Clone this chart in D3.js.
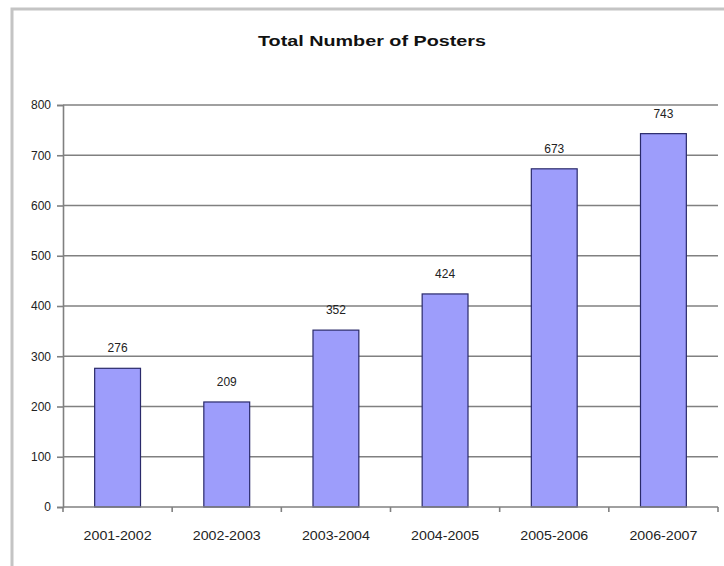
<!DOCTYPE html>
<html>
<head>
<meta charset="utf-8">
<script src="https://cdn.jsdelivr.net/npm/d3@7"></script>
<style>
  html, body { margin: 0; padding: 0; background: #fff; }
  svg { display: block; font-family: "Liberation Sans", Arial, sans-serif; }
</style>
</head>
<body>
<svg id="chart" width="724" height="566"></svg>
<script>
const title = "Total Number of Posters";
const categories = ["2001-2002", "2002-2003", "2003-2004", "2004-2005", "2005-2006", "2006-2007"];
const values = [276, 209, 352, 424, 673, 743];
const yTicks = [0, 100, 200, 300, 400, 500, 600, 700, 800];

const svg = d3.select("#chart");
const W = 724, H = 566;
const plot = { left: 63, right: 718, top: 105, bottom: 507 };

// outer chart frame (partially visible)
svg.append("rect")
  .attr("x", 12).attr("y", 9)
  .attr("width", W + 20).attr("height", H + 20)
  .attr("fill", "#fff")
  .attr("stroke", "#c4c4c4")
  .attr("stroke-width", 3);

// title
svg.append("text")
  .attr("x", 372).attr("y", 46)
  .attr("text-anchor", "middle")
  .attr("font-size", 15)
  .attr("font-weight", "bold")
  .attr("fill", "#111")
  .attr("textLength", 228)
  .attr("lengthAdjust", "spacingAndGlyphs")
  .text(title);

const x = d3.scaleBand()
  .domain(categories)
  .range([plot.left, plot.right])
  .paddingInner(0.58)
  .paddingOuter(0.29);

const y = d3.scaleLinear()
  .domain([0, 800])
  .range([plot.bottom, plot.top]);

// gridlines
svg.append("g")
  .selectAll("line")
  .data(yTicks.filter(d => d > 0))
  .join("line")
  .attr("x1", plot.left).attr("x2", plot.right)
  .attr("y1", d => y(d)).attr("y2", d => y(d))
  .attr("stroke", "#808080")
  .attr("stroke-width", 1.6);

// y axis
const yAxis = svg.append("g")
  .attr("transform", `translate(${plot.left},0)`)
  .call(d3.axisLeft(y).tickValues(yTicks).tickSize(6).tickPadding(6).tickFormat(d3.format("d")));
yAxis.select(".domain").attr("stroke", "#808080").attr("stroke-width", 1.6);
yAxis.selectAll(".tick line").attr("stroke", "#808080").attr("stroke-width", 1.6);
yAxis.selectAll(".tick text")
  .attr("font-size", 12)
  .attr("fill", "#222")
  .attr("font-family", "\"Liberation Sans Narrow\", \"Liberation Sans\", Arial, sans-serif");

// bars
svg.append("g")
  .selectAll("rect")
  .data(values)
  .join("rect")
  .attr("x", (d, i) => x(categories[i]))
  .attr("y", d => y(d))
  .attr("width", x.bandwidth())
  .attr("height", d => y(0) - y(d))
  .attr("fill", "#9d9dfb")
  .attr("stroke", "#2a2a6a")
  .attr("stroke-width", 1.2);

// value labels
svg.append("g")
  .selectAll("text")
  .data(values)
  .join("text")
  .attr("x", (d, i) => x(categories[i]) + x.bandwidth() / 2)
  .attr("y", d => y(d) - 16)
  .attr("text-anchor", "middle")
  .attr("font-size", 13)
  .attr("fill", "#222")
  .attr("textLength", 20)
  .attr("lengthAdjust", "spacingAndGlyphs")
  .text(d => d);

// x axis
const xg = svg.append("g");
xg.append("line")
  .attr("x1", plot.left).attr("x2", plot.right)
  .attr("y1", y(0)).attr("y2", y(0))
  .attr("stroke", "#808080").attr("stroke-width", 1.6);
const step = x.step();
xg.selectAll("line.tick")
  .data(d3.range(categories.length + 1))
  .join("line")
  .attr("class", "tick")
  .attr("x1", i => plot.left + i * step).attr("x2", i => plot.left + i * step)
  .attr("y1", y(0)).attr("y2", y(0) + 5)
  .attr("stroke", "#808080").attr("stroke-width", 1.6);
xg.selectAll("text")
  .data(categories)
  .join("text")
  .attr("x", d => x(d) + x.bandwidth() / 2)
  .attr("y", 540)
  .attr("text-anchor", "middle")
  .attr("font-size", 13)
  .attr("fill", "#222")
  .attr("textLength", 68)
  .attr("lengthAdjust", "spacingAndGlyphs")
  .text(d => d);
</script>
</body>
</html>
